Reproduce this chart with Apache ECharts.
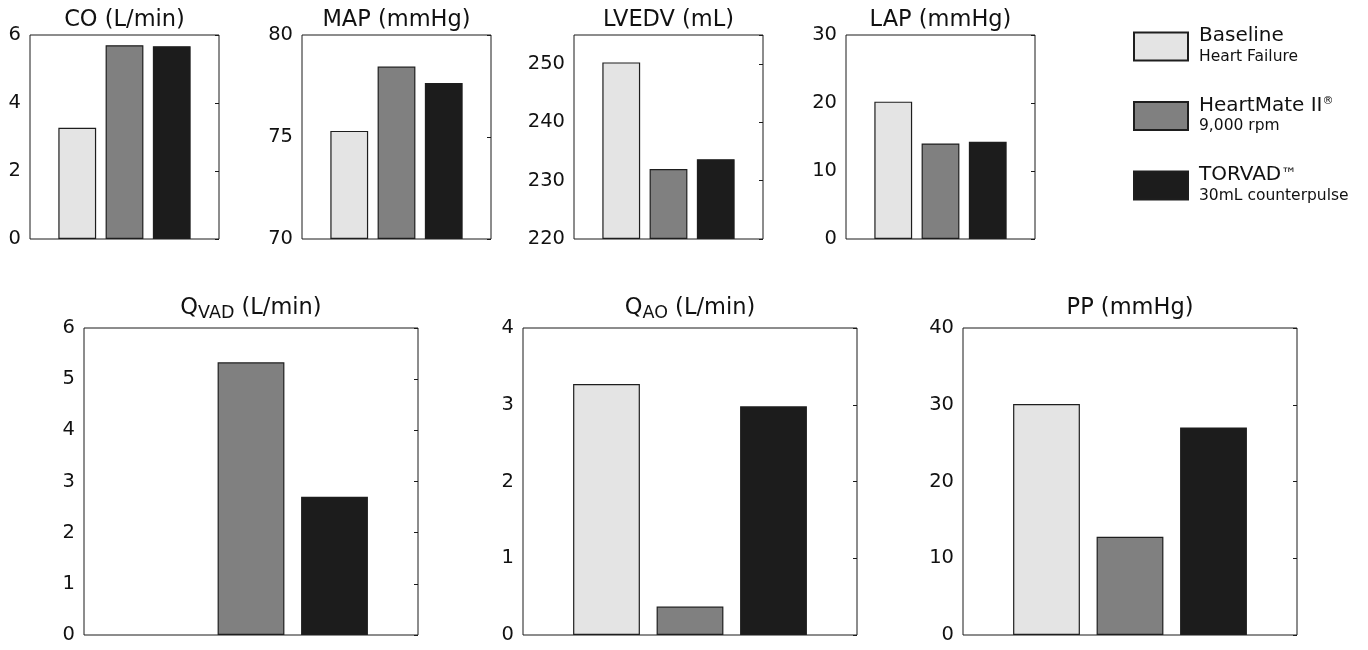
<!DOCTYPE html>
<html>
<head>
<meta charset="utf-8">
<script src="https://cdn.jsdelivr.net/npm/echarts@6/dist/echarts.min.js"></script>
<style>
html,body{margin:0;padding:0;background:#fff;}
#chart{width:1368px;height:650px;}
</style>
</head>
<body>
<div id="chart"></div>
<script>
// ---- data ----
const groupNames = ['Baseline', 'HeartMate II', 'TORVAD'];
const groupSubtitles = ['Heart Failure', '9,000 rpm', '30mL counterpulse'];
const coValues = [3.27, 5.70, 5.67];
const mapValues = [75.3, 78.45, 77.65];
const lvedvValues = [250.3, 232.0, 233.7];
const lapValues = [20.2, 14.05, 14.3];
const qvadValues = [0, 5.33, 2.70];
const qaoValues = [3.27, 0.37, 2.98];
const ppValues = [30.1, 12.8, 27.05];
const panelTitles = ['CO (L/min)', 'MAP (mmHg)', 'LVEDV (mL)', 'LAP (mmHg)', 'Q_VAD (L/min)', 'Q_AO (L/min)', 'PP (mmHg)'];
const yMins = [0, 70, 220, 0, 0, 0, 0];
const yMaxs = [6, 80, 255, 30, 6, 4, 40];
const yIntervals = [2, 5, 10, 10, 1, 1, 10];
const xSlots = ['', 'B', 'H', 'T', ''];

const panelValues = [coValues, mapValues, lvedvValues, lapValues, qvadValues, qaoValues, ppValues];

// ---- layout / style ----
const FONT = 'DejaVu Sans, Liberation Sans, Arial, sans-serif';
const TXT = '#111';
const fills = ['#e4e4e4', '#808080', '#1c1c1c'];
const grids = [
  {left: 30, top: 35, width: 189, height: 204},
  {left: 302, top: 35, width: 189, height: 204},
  {left: 574, top: 35, width: 189, height: 204},
  {left: 846, top: 35, width: 189, height: 204},
  {left: 84, top: 328, width: 334, height: 307},
  {left: 523, top: 328, width: 334, height: 307},
  {left: 963, top: 328, width: 334, height: 307}
];

const chart = echarts.init(document.getElementById('chart'), null, {renderer: 'canvas'});

const option = {
  animation: false,
  backgroundColor: '#fff',
  textStyle: {fontFamily: FONT},
  grid: [], xAxis: [], yAxis: [], series: [], title: []
};

function titleText(t) {
  if (t.startsWith('Q_')) {
    const rest = t.slice(2);
    const sp = rest.indexOf(' ');
    return '{m|Q}{s|' + rest.slice(0, sp) + '}{m|' + rest.slice(sp) + '}';
  }
  return '{m|' + t + '}';
}

grids.forEach((g, i) => {
  option.grid.push(Object.assign({show: true, borderColor: '#1a1a1a', borderWidth: 1, backgroundColor: 'transparent', containLabel: false}, g));
  option.title.push({
    text: titleText(panelTitles[i]),
    left: g.left + g.width / 2,
    textAlign: 'center',
    top: i < 4 ? 6 : 294,
    padding: 0,
    textStyle: {
      fontFamily: FONT, fontWeight: 'normal',
      rich: {
        m: {fontSize: 22.5, fontFamily: FONT, fontWeight: 'normal', color: TXT, lineHeight: 28},
        s: {fontSize: 17.5, fontFamily: FONT, fontWeight: 'normal', color: TXT, lineHeight: 18, verticalAlign: 'bottom'}
      }
    }
  });
  option.xAxis.push({
    type: 'category', gridIndex: i, data: xSlots, boundaryGap: false,
    axisLine: {show: false}, axisTick: {show: false}, axisLabel: {show: false}, splitLine: {show: false}
  });
  const yBase = {
    type: 'value', gridIndex: i, min: yMins[i], max: yMaxs[i], interval: yIntervals[i],
    splitLine: {show: false}, axisLine: {show: false}
  };
  option.yAxis.push(Object.assign({}, yBase, {
    position: 'left', startValue: yMins[i],
    axisTick: {show: false},
    axisLabel: {show: true, fontSize: 19.5, fontFamily: FONT, color: TXT, margin: 9, showMaxLabel: yMaxs[i] % yIntervals[i] === 0}
  }));
  option.yAxis.push(Object.assign({}, yBase, {
    position: 'right',
    axisTick: {show: true, inside: true, length: 4, lineStyle: {color: '#1a1a1a', width: 1}},
    axisLabel: {show: false}
  }));
  const vals = panelValues[i];
  groupNames.forEach((name, k) => {
    const data = xSlots.map((_, j) => (j === k + 1 && vals[k] !== 0 ? vals[k] : null));
    option.series.push({
      type: 'bar', name: name, xAxisIndex: i, yAxisIndex: 2 * i,
      data: data, barWidth: '80%', barGap: '-100%',
      itemStyle: {color: fills[k], borderColor: '#1e1e1e', borderWidth: 1.2},
      emphasis: {disabled: true}
    });
  });
});

option.legend = {
  orient: 'vertical', left: 1133, top: 26, padding: 0, itemWidth: 54, itemHeight: 28, itemGap: 31,
  icon: 'rect', selectedMode: false,
  data: groupNames,
  formatter: function (name) {
    const k = groupNames.indexOf(name);
    let head = '{a|' + name + '}';
    if (k === 1) head += '{sup|\u00AE}';
    if (k === 2) head += '{tm|\u2122}';
    return head + '\n{b|' + groupSubtitles[k] + '}';
  },
  textStyle: {
    padding: [0, 0, 0, 6],
    rich: {
      a: {fontSize: 20, fontFamily: FONT, color: TXT, lineHeight: 20},
      sup: {fontSize: 11, fontFamily: FONT, color: TXT, lineHeight: 10, verticalAlign: 'top'},
      tm: {fontSize: 16, fontFamily: FONT, color: TXT, lineHeight: 20},
      b: {fontSize: 15.5, fontFamily: FONT, color: TXT, lineHeight: 21}
    }
  }
};

chart.setOption(option);
</script>
</body>
</html>
